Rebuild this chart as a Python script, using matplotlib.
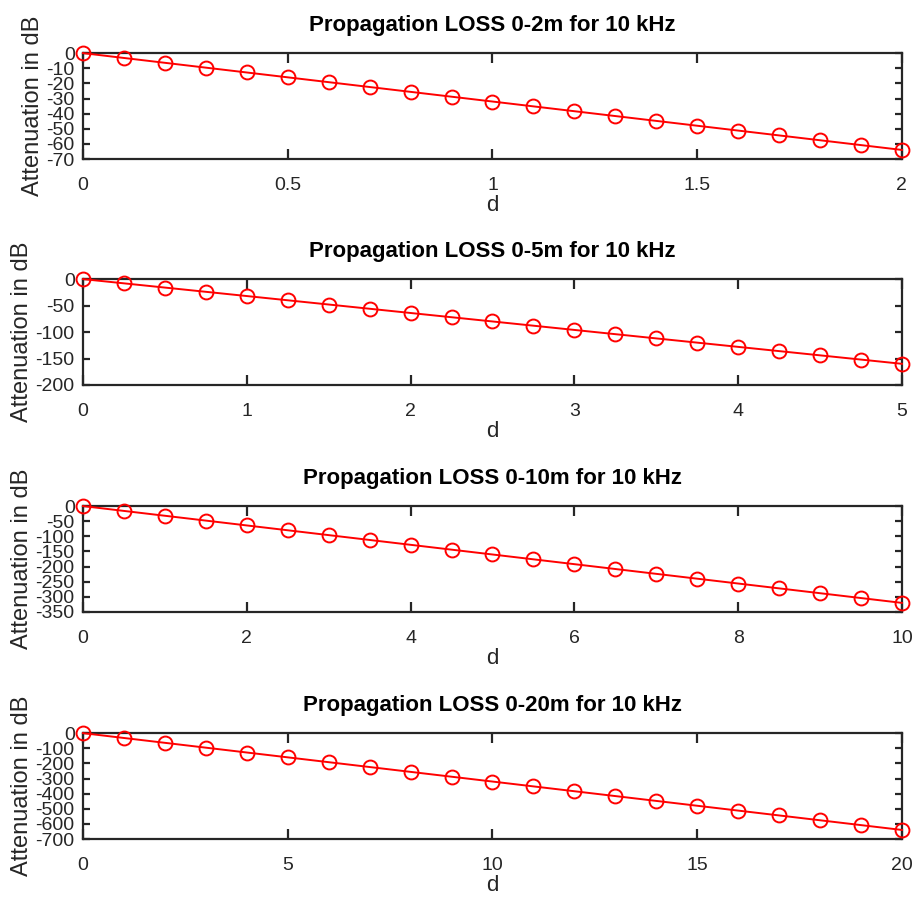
import matplotlib
matplotlib.use('Agg')
import matplotlib.pyplot as plt

plt.rcParams['font.family'] = ['Liberation Sans', 'DejaVu Sans']

# distance (m) and attenuation (dB)
d1 = [0, 0.1, 0.2, 0.3, 0.4, 0.5, 0.6, 0.7, 0.8, 0.9, 1.0,
      1.1, 1.2, 1.3, 1.4, 1.5, 1.6, 1.7, 1.8, 1.9, 2.0]
a1 = [0, -3.2, -6.4, -9.6, -12.8, -16, -19.2, -22.4, -25.6, -28.8, -32,
      -35.2, -38.4, -41.6, -44.8, -48, -51.2, -54.4, -57.6, -60.8, -64]

d2 = [0, 0.25, 0.5, 0.75, 1.0, 1.25, 1.5, 1.75, 2.0, 2.25, 2.5,
      2.75, 3.0, 3.25, 3.5, 3.75, 4.0, 4.25, 4.5, 4.75, 5.0]
a2 = [0, -8, -16, -24, -32, -40, -48, -56, -64, -72, -80,
      -88, -96, -104, -112, -120, -128, -136, -144, -152, -160]

d3 = [0, 0.5, 1, 1.5, 2, 2.5, 3, 3.5, 4, 4.5, 5,
      5.5, 6, 6.5, 7, 7.5, 8, 8.5, 9, 9.5, 10]
a3 = [0, -16, -32, -48, -64, -80, -96, -112, -128, -144, -160,
      -176, -192, -208, -224, -240, -256, -272, -288, -304, -320]

d4 = [0, 1, 2, 3, 4, 5, 6, 7, 8, 9, 10,
      11, 12, 13, 14, 15, 16, 17, 18, 19, 20]
a4 = [0, -32, -64, -96, -128, -160, -192, -224, -256, -288, -320,
      -352, -384, -416, -448, -480, -512, -544, -576, -608, -640]

titles = ['Propagation LOSS 0-2m for 10 kHz',
          'Propagation LOSS 0-5m for 10 kHz',
          'Propagation LOSS 0-10m for 10 kHz',
          'Propagation LOSS 0-20m for 10 kHz']
xticks = [[0, 0.5, 1, 1.5, 2], [0, 1, 2, 3, 4, 5],
          [0, 2, 4, 6, 8, 10], [0, 5, 10, 15, 20]]
xlabels = [['0', '0.5', '1', '1.5', '2'], ['0', '1', '2', '3', '4', '5'],
           ['0', '2', '4', '6', '8', '10'], ['0', '5', '10', '15', '20']]
yticks = [[0, -10, -20, -30, -40, -50, -60, -70],
          [0, -50, -100, -150, -200],
          [0, -50, -100, -150, -200, -250, -300, -350],
          [0, -100, -200, -300, -400, -500, -600, -700]]

data = [(d1, a1), (d2, a2), (d3, a3), (d4, a4)]
bottoms = [0.8243, 0.5746, 0.3238, 0.0729]

fig = plt.figure(figsize=(9.15, 9.05), dpi=100)
dark = '#262626'

for i in range(4):
    ax = fig.add_axes([0.0907, bottoms[i], 0.895, 0.117])
    x, y = data[i]
    ax.plot(x, y, '-o', color='#ff0000', lw=1.4, ms=10, mfc='none',
            mec='#ff0000', mew=1.4, clip_on=False, zorder=3)
    ax.set_xlim(xticks[i][0], xticks[i][-1])
    ax.set_ylim(yticks[i][-1], 0)
    ax.set_xticks(xticks[i])
    ax.set_xticklabels(xlabels[i])
    ax.set_yticks(yticks[i])
    ax.set_yticklabels([str(v) for v in yticks[i]])
    ax.tick_params(axis='x', direction='in', length=7, width=1.6, top=True,
                   pad=13, labelsize=14, colors=dark)
    ax.tick_params(axis='y', direction='in', length=5, width=1.6, right=True,
                   pad=6, labelsize=14, colors=dark)
    for s in ax.spines.values():
        s.set_linewidth(1.6)
        s.set_color(dark)
    ax.set_title(titles[i], fontsize=16, fontweight='bold', pad=16)
    ax.set_xlabel('d', fontsize=16, color=dark, labelpad=1)
    ax.set_ylabel('Attenuation in dB', fontsize=17, color=dark, labelpad=2)

fig.savefig('out.png', dpi=100)
